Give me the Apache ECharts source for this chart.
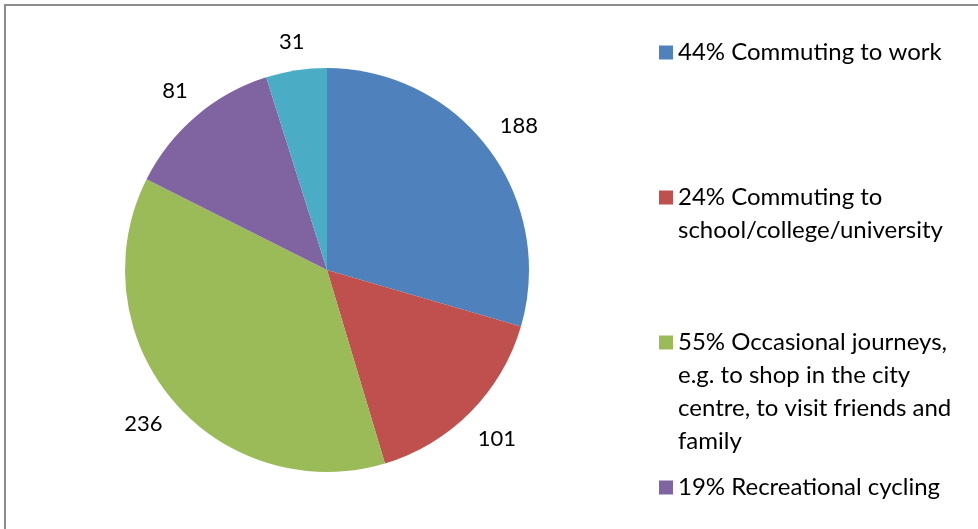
<!DOCTYPE html>
<html>
<head>
<meta charset="utf-8">
<script src="https://cdn.jsdelivr.net/npm/echarts@6/dist/echarts.min.js"></script>
<style>
  html, body { margin: 0; padding: 0; background: #fff; overflow: hidden; }
  #frame {
    position: absolute;
    left: 4px;
    top: 4px;
    right: 0;
    bottom: 0;
    border-top: 2px solid #8c8c8c;
    border-left: 2px solid #8c8c8c;
  }
  #chart { position: absolute; left: 0; top: 0; width: 978px; height: 529px; }
</style>
</head>
<body>
<div id="frame"></div>
<div id="chart"></div>
<script>
// legend text (line breaks as in the original legend)
const categories = [
  '44% Commuting to work',
  '24% Commuting to\nschool/college/university',
  '55% Occasional journeys,\ne.g. to shop in the city\ncentre, to visit friends and\nfamily',
  '19% Recreational cycling',
  'Other'
]
const values = [188, 101, 236, 81, 31]
const colors = ['#4f81bd', '#c0504d', '#9bbb59', '#8064a2', '#4bacc6']

const FONT = 'Lato, "Open Sans", sans-serif'
const LINE_H = 33
const CENTER = [327, 270]
const RADIUS = 202
const LABEL_GAP = 218 // distance from centre to the near edge of a value label

const chart = echarts.init(document.getElementById('chart'))

// one legend block per slot; blank lines in front keep the square on the first line
const legends = categories.slice(0, 4).map((name, i) => {
  const n = name.split('\n').length
  return {
    data: [name],
    formatter: (nm) => '\n'.repeat(n - 1) + nm,
    orient: 'vertical',
    left: 659,
    top: 52.5 + i * 145 - ((2 * n - 1) * LINE_H) / 2,
    padding: 0,
    itemWidth: 14,
    itemHeight: 14,
    icon: 'rect',
    selectedMode: false,
    textStyle: {
      fontFamily: FONT,
      fontSize: 24,
      lineHeight: LINE_H,
      color: '#000'
    }
  }
})

// push each label out along its radius so its near edge sits at LABEL_GAP (like Excel's outside end)
const placeLabel = (params) => {
  const r = params.labelRect
  const px = r.x + r.width / 2
  const py = r.y + r.height / 2
  const dx = px - CENTER[0]
  const dy = py - CENTER[1]
  const len = Math.sqrt(dx * dx + dy * dy) || 1
  const ux = dx / len
  const uy = dy / len
  const half = Math.abs(ux) * r.width / 2 + Math.abs(uy) * r.height / 2
  const d = LABEL_GAP + half
  return {
    x: CENTER[0] + ux * d,
    y: CENTER[1] + uy * d,
    align: 'center',
    verticalAlign: 'middle'
  }
}

const option = {
  animation: false,
  backgroundColor: 'transparent',
  color: colors,
  legend: legends,
  series: [
    {
      type: 'pie',
      center: CENTER,
      radius: RADIUS,
      startAngle: 90,
      clockwise: true,
      silent: true,
      label: { show: false },
      labelLine: { show: false },
      itemStyle: { borderWidth: 0 },
      data: categories.map((name, i) => ({
        name,
        value: values[i],
        itemStyle: { color: colors[i] }
      }))
    },
    {
      // invisible ring that carries the value labels outside the pie
      type: 'pie',
      center: CENTER,
      radius: [RADIUS, 272],
      startAngle: 90,
      clockwise: true,
      silent: true,
      itemStyle: { color: 'transparent', borderWidth: 0 },
      label: {
        show: true,
        position: 'inside',
        formatter: '{c}',
        fontFamily: FONT,
        fontSize: 22,
        color: '#000'
      },
      labelLine: { show: false },
      labelLayout: placeLabel,
      data: values.map((v) => ({ value: v }))
    }
  ]
}

chart.setOption(option)
</script>
</body>
</html>
